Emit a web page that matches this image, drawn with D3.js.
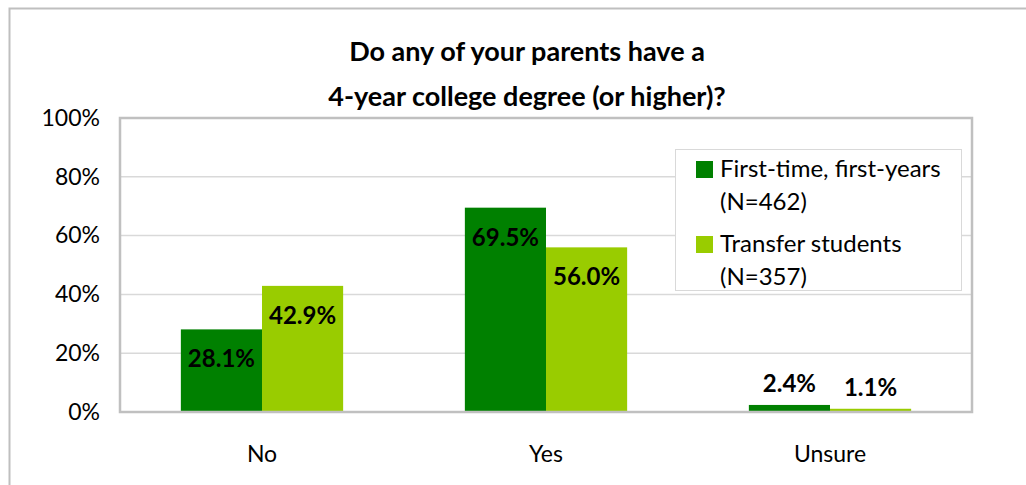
<!DOCTYPE html>
<html><head><meta charset="utf-8">
<script src="https://cdn.jsdelivr.net/npm/d3@7"></script>
<style>
html,body{margin:0;padding:0;background:#fff;}
svg{display:block;font-family:Lato,"Open Sans",sans-serif;}
</style></head>
<body>
<svg id="chart" width="1026" height="485"></svg>
<script>
const categories = ["No", "Yes", "Unsure"];
const seriesNames = ["First-time, first-years", "Transfer students"];
const seriesN = ["(N=462)", "(N=357)"];
const firstYears = [28.1, 69.5, 2.4];
const transfers = [42.9, 56.0, 1.1];
const yTicks = [0, 20, 40, 60, 80, 100];
const titleLines = ["Do any of your parents have a", "4-year college degree (or higher)?"];
const colors = ["#008000", "#99cc00"];

const svg = d3.select("#chart");
const W = 1026, H = 485;
const m = {left: 120, right: 972, top: 118, bottom: 412};

// outer border
svg.append("rect").attr("x", 9.5).attr("y", 8.5).attr("width", W + 10).attr("height", H + 10)
  .attr("fill", "none").attr("stroke", "#bfbfbf").attr("stroke-width", 2);

const x0 = d3.scaleBand().domain(categories).range([m.left, m.right]).paddingInner(0).paddingOuter(0);
const x1 = d3.scaleBand().domain([0, 1]).range([0, x0.bandwidth()]).paddingInner(0).paddingOuter(0.75);
const y = d3.scaleLinear().domain([0, 100]).range([m.bottom, m.top]);

// gridlines
svg.append("g").selectAll("line").data(yTicks.filter(t => t > 0 && t < 100)).join("line")
  .attr("x1", m.left).attr("x2", m.right).attr("y1", d => y(d)).attr("y2", d => y(d))
  .attr("stroke", "#d9d9d9").attr("stroke-width", 1.5);

// y axis
const yAxis = d3.axisLeft(y).tickValues(yTicks).tickFormat(d => d + "%").tickSize(0).tickPadding(20);
const ga = svg.append("g").attr("transform", `translate(${m.left},0)`).call(yAxis);
ga.select(".domain").remove();
ga.selectAll("text").attr("font-size", 23).attr("fill", "#000").attr("font-family", "Lato, sans-serif");

// x axis labels
const xAxis = d3.axisBottom(x0).tickSize(0).tickPadding(34);
const gx = svg.append("g").attr("transform", `translate(0,${m.bottom})`).call(xAxis);
gx.select(".domain").remove();
gx.selectAll("text").attr("font-size", 23).attr("fill", "#000").attr("font-family", "Lato, sans-serif");

// bars
const data = categories.map((c, i) => ({c, vals: [firstYears[i], transfers[i]]}));
const groups = svg.append("g").selectAll("g").data(data).join("g")
  .attr("transform", d => `translate(${x0(d.c)},0)`);
groups.selectAll("rect").data(d => d.vals.map((v, k) => ({v, k}))).join("rect")
  .attr("x", d => x1(d.k)).attr("width", x1.bandwidth())
  .attr("y", d => y(d.v)).attr("height", d => y(0) - y(d.v))
  .attr("fill", d => colors[d.k]);
groups.selectAll("text").data(d => d.vals.map((v, k) => ({v, k}))).join("text")
  .attr("x", d => x1(d.k) + x1.bandwidth() / 2)
  .attr("y", d => (y(0) - y(d.v) > 40) ? y(d.v) + 38 : y(d.v) - 13)
  .attr("text-anchor", "middle").attr("font-size", 24).attr("font-weight", "bold")
  .text(d => d.v.toFixed(1) + "%");

// plot border
svg.append("rect").attr("x", m.left).attr("y", m.top).attr("width", m.right - m.left).attr("height", m.bottom - m.top)
  .attr("fill", "none").attr("stroke", "#c0c0c0").attr("stroke-width", 2.5);

// title
svg.append("text").attr("x", 527).attr("y", 61).attr("text-anchor", "middle")
  .attr("font-size", 27).attr("font-weight", "bold").text(titleLines[0]);
svg.append("text").attr("x", 527).attr("y", 106).attr("text-anchor", "middle")
  .attr("font-size", 27).attr("font-weight", "bold").text(titleLines[1]);

// legend
const lg = svg.append("g");
lg.append("rect").attr("x", 675.5).attr("y", 149.5).attr("width", 286).attr("height", 141)
  .attr("fill", "#fff").attr("stroke", "#d9d9d9").attr("stroke-width", 1);
seriesNames.forEach((s, i) => {
  const yy = 161 + i * 75;
  lg.append("rect").attr("x", 696).attr("y", yy).attr("width", 17).attr("height", 17).attr("fill", colors[i]);
  lg.append("text").attr("x", 720).attr("y", yy + 16).attr("font-size", 24).text(s);
  lg.append("text").attr("x", 720).attr("y", yy + 49).attr("font-size", 24).text(seriesN[i]);
});
</script>
</body></html>
